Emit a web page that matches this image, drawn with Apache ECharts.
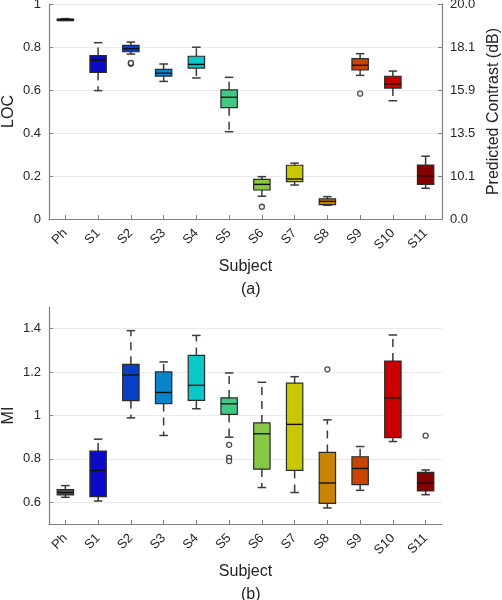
<!DOCTYPE html>
<html><head><meta charset="utf-8">
<script src="https://cdn.jsdelivr.net/npm/echarts@6/dist/echarts.min.js"></script>
<style>html,body{margin:0;padding:0;background:#fff}#c{width:502px;height:600px}</style>
</head><body><div id="c"></div>
<script>
const categories = ['Ph','S1','S2','S3','S4','S5','S6','S7','S8','S9','S10','S11'];
const boxColors = ['#222222','#0a0ac8','#0a40c8','#0a84c8','#0ac8c8','#40c884','#88c844','#c8c800','#c88400','#c84400','#c80000','#840000'];
const bottomPhColor = '#555555';

// Panel (a): LOC
const locLow    = [0.924,0.597,0.767,0.640,0.656,0.406,0.106,0.158,0.064,0.668,0.550,0.143];
const locQ1     = [0.926,0.682,0.778,0.665,0.702,0.518,0.135,0.174,0.067,0.693,0.609,0.161];
const locMedian = [0.928,0.738,0.792,0.678,0.719,0.566,0.161,0.186,0.082,0.715,0.628,0.201];
const locQ3     = [0.930,0.760,0.808,0.696,0.757,0.601,0.184,0.250,0.094,0.746,0.664,0.251];
const locHigh   = [0.932,0.820,0.823,0.721,0.799,0.659,0.197,0.260,0.104,0.769,0.688,0.292];
const locOutliers = [['S2',0.722],['S2',0.726],['S6',0.057],['S9',0.583]];
const contrastTicks = [0,0.2,0.4,0.6,0.8,1];
const contrastLabels = ['0.0','10.1','13.5','15.9','18.1','20.0'];

// Panel (b): MI
const miLow    = [0.623,0.606,0.989,0.908,1.031,0.900,0.668,0.645,0.574,0.655,0.880,0.635];
const miQ1     = [0.634,0.626,1.069,1.055,1.070,1.005,0.753,0.747,0.595,0.681,0.898,0.652];
const miMedian = [0.645,0.747,1.187,1.106,1.139,1.054,0.916,0.959,0.689,0.756,1.081,0.689];
const miQ3     = [0.658,0.836,1.236,1.201,1.277,1.081,0.966,1.149,0.830,0.810,1.251,0.738];
const miHigh   = [0.677,0.891,1.391,1.247,1.369,1.196,1.153,1.179,0.980,0.857,1.371,0.749];
const miOutliers = [['S5',0.865],['S5',0.806],['S5',0.790],['S8',1.213],['S11',0.907]];
const miTicks = [0.6,0.8,1,1.2,1.4];

function buildData(low,q1,med,q3,high,phColor){
  return categories.map((c,i)=>({
    value:[i,low[i],q1[i],med[i],q3[i],high[i]],
    itemStyle:{color: (i===0 && phColor) ? phColor : boxColors[i]}
  }));
}

function renderBox(params, api){
  const x = api.value(0);
  const lo = api.coord([x, api.value(1)]);
  const q1 = api.coord([x, api.value(2)]);
  const md = api.coord([x, api.value(3)]);
  const q3 = api.coord([x, api.value(4)]);
  const hi = api.coord([x, api.value(5)]);
  const band = api.size([1,0])[0];
  const bw = band*0.5, cap = band*0.26;
  const cx = lo[0];
  const color = api.visual('color');
  const wStyle = {stroke:'#3a3a3a', lineWidth:1.5, lineDash:[8,6]};
  const cStyle = {stroke:'#3a3a3a', lineWidth:1.5};
  return {type:'group', children:[
    {type:'line', shape:{x1:cx,y1:q3[1],x2:cx,y2:hi[1]}, style:wStyle},
    {type:'line', shape:{x1:cx,y1:q1[1],x2:cx,y2:lo[1]}, style:wStyle},
    {type:'line', shape:{x1:cx-cap/2,y1:hi[1],x2:cx+cap/2,y2:hi[1]}, style:cStyle},
    {type:'line', shape:{x1:cx-cap/2,y1:lo[1],x2:cx+cap/2,y2:lo[1]}, style:cStyle},
    {type:'rect', shape:{x:cx-bw/2,y:q3[1],width:bw,height:Math.max(q1[1]-q3[1],1.5)},
      style:{fill:color, stroke:'#2a2a2a', lineWidth:1.2}},
    {type:'line', shape:{x1:cx-bw/2,y1:md[1],x2:cx+bw/2,y2:md[1]}, style:{stroke:'#111', lineWidth:1.4}}
  ]};
}

const axisLineStyle = {show:true, lineStyle:{color:'#7f7f7f', width:1.2}};
const tickStyle = {show:true, inside:true, length:4, lineStyle:{color:'#7f7f7f'}};
const labelFont = {color:'#262626', fontSize:13, fontFamily:'Liberation Sans'};
const nameFont = {color:'#222', fontSize:16, fontFamily:'Liberation Sans'};

const xBase = (gi)=>({
  type:'category', gridIndex:gi, data:categories, boundaryGap:true,
  axisLine:axisLineStyle,
  axisTick:Object.assign({alignWithLabel:true}, tickStyle),
  axisLabel:Object.assign({rotate:45, margin:12, interval:0}, labelFont),
  splitLine:{show:false},
  name:'Subject', nameLocation:'middle', nameGap:40, nameMoveOverlap:false, nameTextStyle:nameFont
});

const chart = echarts.init(document.getElementById('c'), null, {renderer:'canvas'});
chart.setOption({
  animation:false,
  backgroundColor:'#fff',
  title:[
    {text:'(a)', top:277, textStyle:Object.assign({fontWeight:'normal'}, nameFont), left:236},
    {text:'(b)', top:582, textStyle:Object.assign({fontWeight:'normal'}, nameFont), left:236}
  ],
  grid:[
    {left:49, right:60, top:4, height:215, containLabel:false, outerBoundsMode:'none'},
    {left:49, right:60, top:307, height:217, containLabel:false, outerBoundsMode:'none'}
  ],
  xAxis:[xBase(0), xBase(1)],
  yAxis:[
    {type:'value', gridIndex:0, min:0, max:1, interval:0.2, position:'left',
     axisLine:axisLineStyle, axisTick:tickStyle, axisLabel:labelFont,
     splitLine:{show:true, lineStyle:{color:'#ebebeb', width:1.2}},
     name:'LOC', nameLocation:'middle', nameGap:32, nameMoveOverlap:false, nameTextStyle:nameFont},
    {type:'value', gridIndex:0, min:0, max:1, interval:0.2, position:'right',
     axisLine:axisLineStyle, axisTick:tickStyle,
     axisLabel:Object.assign({formatter:(v)=>{const k=contrastTicks.findIndex(t=>Math.abs(t-v)<1e-6);return k>=0?contrastLabels[k]:'';}}, labelFont),
     splitLine:{show:false},
     name:'Predicted Contrast (dB)', nameLocation:'middle', nameGap:44, nameRotate:90, nameMoveOverlap:false, nameTextStyle:nameFont},
    {type:'value', gridIndex:1, min:0.5, max:1.5, position:'left',
     axisLine:axisLineStyle,
     axisTick:Object.assign({customValues:miTicks}, tickStyle),
     axisLabel:Object.assign({customValues:miTicks}, labelFont),
     splitLine:{show:true, lineStyle:{color:'#ebebeb', width:1.2}},
     name:'MI', nameLocation:'middle', nameGap:32, nameMoveOverlap:false, nameTextStyle:nameFont}
  ],
  series:[
    {type:'custom', xAxisIndex:0, yAxisIndex:0, renderItem:renderBox,
     encode:{x:0, y:[1,2,3,4,5]}, data:buildData(locLow,locQ1,locMedian,locQ3,locHigh)},
    {type:'scatter', xAxisIndex:0, yAxisIndex:0, symbol:'circle', symbolSize:5,
     itemStyle:{color:'#fff', borderColor:'#222', borderWidth:1.3}, data:locOutliers},
    {type:'custom', xAxisIndex:1, yAxisIndex:2, renderItem:renderBox,
     encode:{x:0, y:[1,2,3,4,5]}, data:buildData(miLow,miQ1,miMedian,miQ3,miHigh,bottomPhColor)},
    {type:'scatter', xAxisIndex:1, yAxisIndex:2, symbol:'circle', symbolSize:5,
     itemStyle:{color:'#fff', borderColor:'#222', borderWidth:1.3}, data:miOutliers}
  ]
});
</script></body></html>
